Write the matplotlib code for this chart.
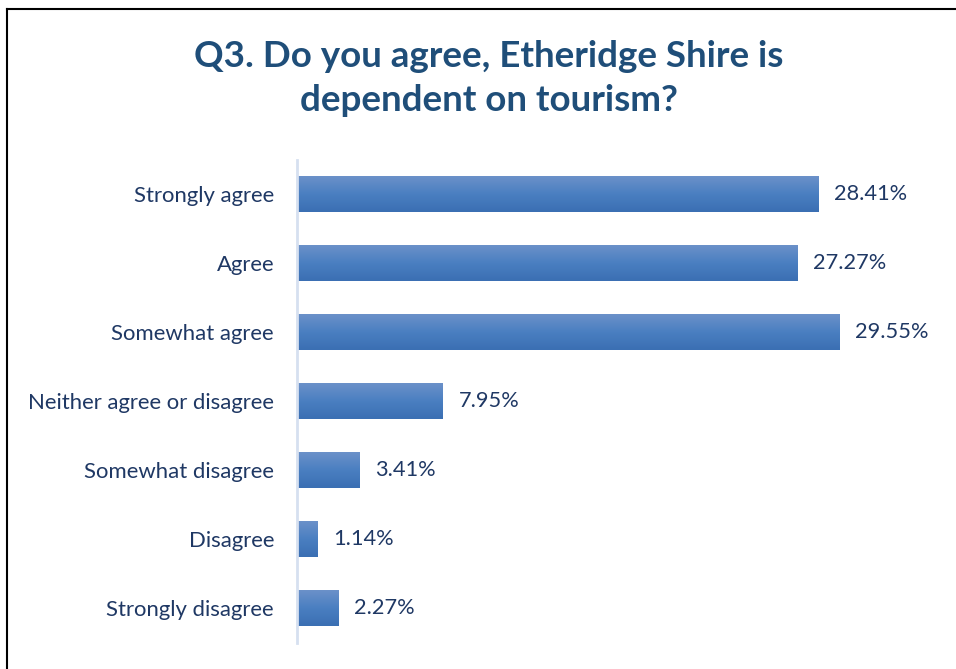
import numpy as np
import matplotlib
matplotlib.use("Agg")
import matplotlib.pyplot as plt
from matplotlib.colors import LinearSegmentedColormap
from matplotlib.lines import Line2D

categories = [
    "Strongly agree",
    "Agree",
    "Somewhat agree",
    "Neither agree or disagree",
    "Somewhat disagree",
    "Disagree",
    "Strongly disagree",
]
percentages = [28.41, 27.27, 29.55, 7.95, 3.41, 1.14, 2.27]
title = "Q3. Do you agree, Etheridge Shire is\ndependent on tourism?"

plt.rcParams["font.family"] = ["Lato", "DejaVu Sans"]

fig = plt.figure(figsize=(9.56, 6.69), dpi=100)
ax = fig.add_axes([0.3107, 0.0389, 0.6716, 0.722])

y = np.arange(len(categories))
bars = ax.barh(y, percentages, height=0.51, color="none", edgecolor="none")

# vertical gradient fill for each bar
grad = LinearSegmentedColormap.from_list("bar", ["#6b91c9", "#4a7fc1", "#3b6fb3"])
g = np.linspace(0, 1, 64).reshape(-1, 1)
for b, v in zip(bars, percentages):
    x0, y0 = b.get_x(), b.get_y()
    w, h = b.get_width(), b.get_height()
    ax.imshow(g, cmap=grad, aspect="auto", interpolation="bilinear",
              extent=(x0, x0 + w, y0 + h, y0), zorder=2)
    ax.text(v + 0.85, b.get_y() + h / 2, f"{v:.2f}%", va="center", ha="left",
            fontsize=15.7, color="#1f3864")
ax.set_xlim(0, 35)
ax.set_ylim(len(categories) - 0.5, -0.5)

ax.set_yticks(y)
ax.set_yticklabels(categories, fontsize=15.9, color="#1f3864")
ax.tick_params(axis="y", length=0, pad=16.5)
ax.set_xticks([])
for s in ["top", "right", "bottom"]:
    ax.spines[s].set_visible(False)
ax.spines["left"].set_color("#d6e0f0")
ax.spines["left"].set_linewidth(2)

fig.text(0.511, 0.883, title, ha="center", va="center", fontsize=26.5,
         fontweight="bold", color="#1f4e79", linespacing=1.4)

# frame lines along the top and left edges
fig.add_artist(Line2D([0.0078, 0.0078], [0, 0.9865], transform=fig.transFigure,
                      color="black", lw=1.5))
fig.add_artist(Line2D([0.0078, 1.0], [0.9865, 0.9865], transform=fig.transFigure,
                      color="black", lw=1.5))

fig.savefig("out.png", dpi=100, facecolor="white")
